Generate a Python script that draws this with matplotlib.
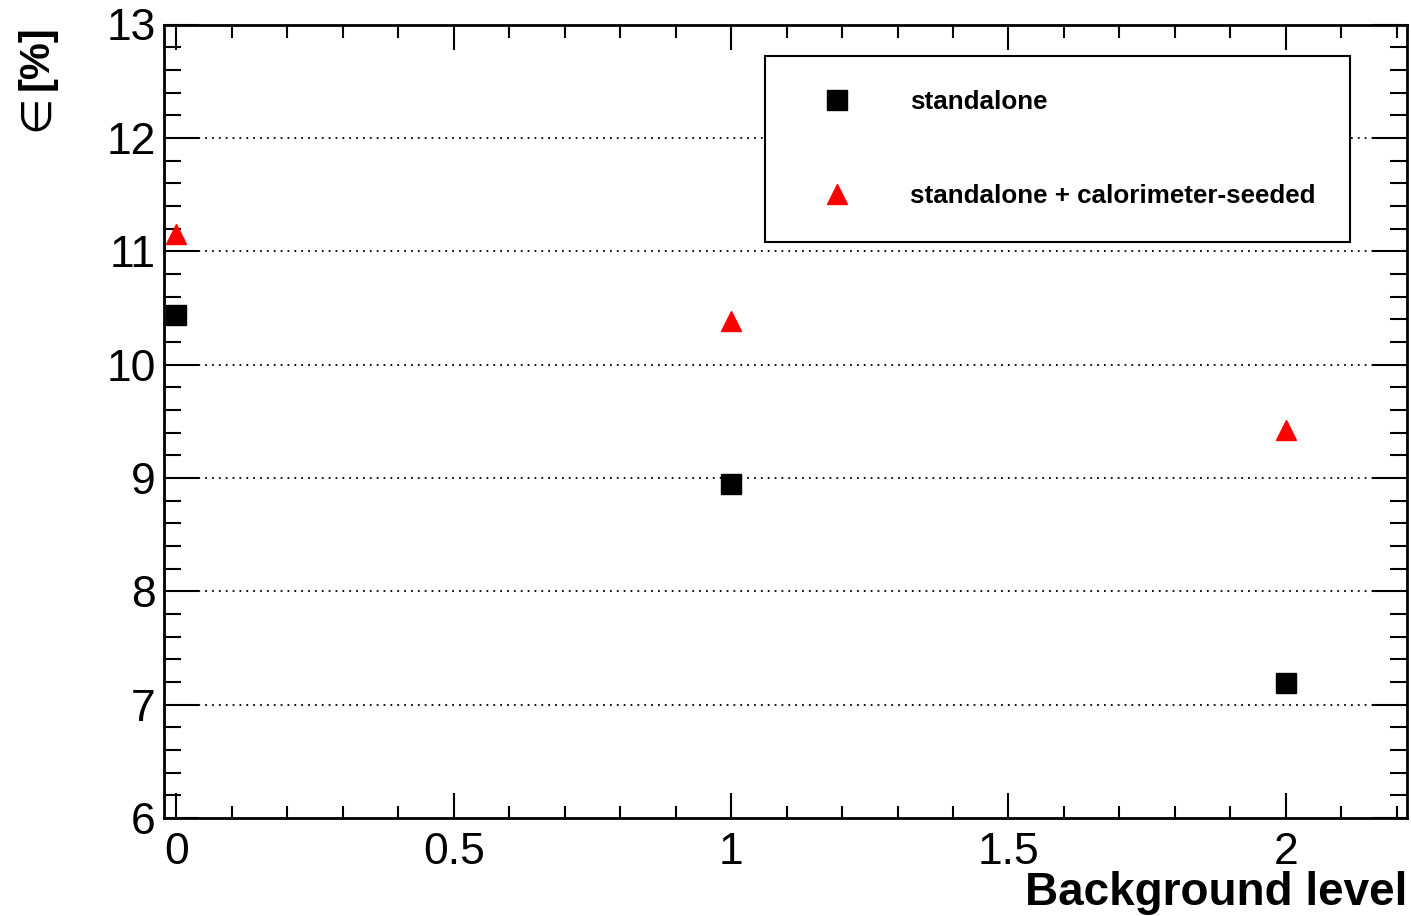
import matplotlib
matplotlib.use("Agg")
import matplotlib.pyplot as plt
from matplotlib.ticker import MultipleLocator

plt.rcParams['font.family'] = ['Liberation Sans', 'DejaVu Sans']

# background level vs efficiency [%]
bkg_level = [0, 1, 2]
eff_standalone = [10.44, 8.95, 7.19]
eff_combined = [11.15, 10.38, 9.42]
labels = ["standalone", "standalone + calorimeter-seeded"]

W, H = 1411, 916
fig = plt.figure(figsize=(W / 100, H / 100), dpi=100)
ax = fig.add_axes([164 / W, 1 - 818 / H, (1407 - 164) / W, (818 - 24.5) / H])

# horizontal dotted grid at the major y ticks
for yv in range(7, 13):
    ax.axhline(yv, color='black', lw=1.3, ls=(0, (1, 2.8)), zorder=1)

ax.plot(bkg_level, eff_standalone, ls='none', marker='s', ms=14,
        color='black', label=labels[0], zorder=3)
ax.plot(bkg_level, eff_combined, ls='none', marker='^', ms=15,
        color='red', mec='red', label=labels[1], zorder=3)

ax.set_xlim(-0.0225, 2.2185)
ax.set_ylim(6, 13)

ax.xaxis.set_major_locator(MultipleLocator(0.5))
ax.xaxis.set_minor_locator(MultipleLocator(0.1))
ax.yaxis.set_major_locator(MultipleLocator(1))
ax.yaxis.set_minor_locator(MultipleLocator(0.2))
ax.xaxis.set_major_formatter(plt.FuncFormatter(lambda v, p: f"{v:g}"))

ax.tick_params(which='both', direction='in', top=True, right=True,
               width=1.5, labelsize=32)
ax.tick_params(axis='x', which='major', length=18, pad=10)
ax.tick_params(axis='x', which='minor', length=9)
ax.tick_params(axis='y', which='major', length=25, pad=6)
ax.tick_params(axis='y', which='minor', length=12.5)
for s in ax.spines.values():
    s.set_linewidth(2)

leg = ax.legend(loc='upper left', bbox_to_anchor=(765 / W, 1 - 56 / H),
                bbox_transform=fig.transFigure, borderaxespad=0,
                prop={'weight': 'bold', 'size': 18.7}, fancybox=False,
                frameon=True, edgecolor='black', framealpha=1,
                borderpad=1.3, handlelength=2.95, handletextpad=1.35,
                labelspacing=2.72, markerscale=1.0)
leg.get_frame().set_linewidth(1.5)

fig.text(1407 / W, 1 - 905 / H, "Background level", ha='right',
         va='baseline', fontsize=33, fontweight='bold')
fig.text(37 / W, 1 - 25 / H, "[%]", rotation=90, ha='center', va='top',
         fontsize=30, fontweight='bold')
fig.text(37 / W, 1 - 131 / H, "\u2208", rotation=90, ha='center',
         va='bottom', fontsize=30)

fig.savefig("out.png", dpi=100)
